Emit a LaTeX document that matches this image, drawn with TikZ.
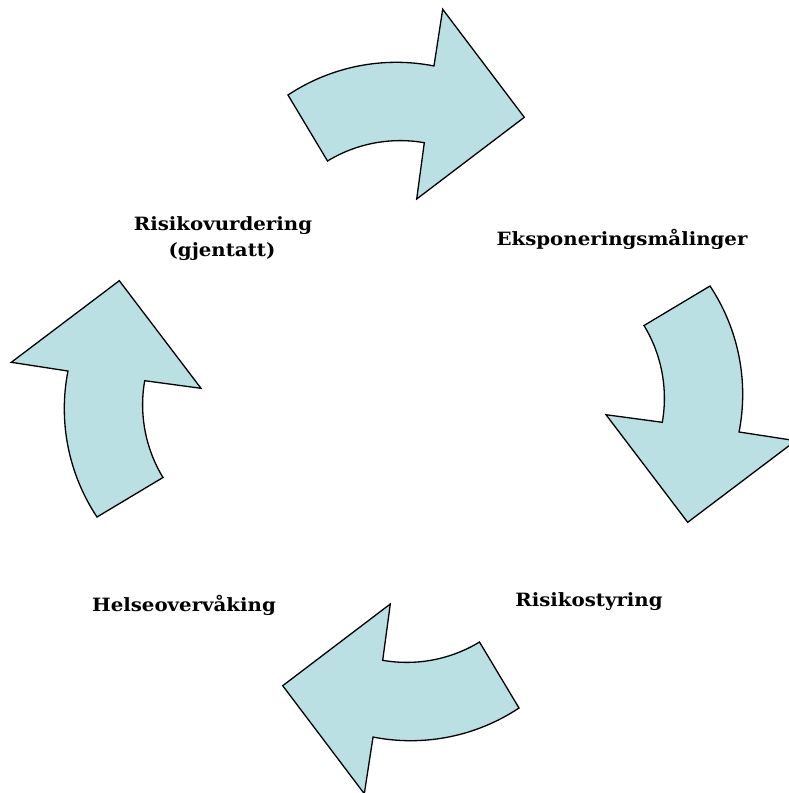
\documentclass[tikz,border=0pt]{standalone}
\usepackage{fontspec}
\setmainfont{DejaVu Serif}[FakeStretch=1.08]
\definecolor{arrowfill}{RGB}{186,224,228}
\begin{document}
\begin{tikzpicture}[x=1pt,y=-1pt,
  bentarrow/.style={draw=black,line width=1.3pt,fill=arrowfill,line join=miter},
  lbl/.style={font=\fontsize{18.3}{26}\selectfont\bfseries,inner sep=0pt,anchor=base,align=center}]
\useasboundingbox (0,0) rectangle (788,793);
\coordinate (c) at (403.5,401.5);
\def\arrowpath{(288,95) arc[start angle=-123.6,end angle=-78.9,radius=195.7]
  -- (442.7,9.3) -- (524.3,117.3) -- (416.7,199) -- (424.3,142.7)
  arc[start angle=-80.1,end angle=-121.3,radius=140] -- cycle}
\draw[bentarrow] \arrowpath;
\draw[bentarrow,rotate around={-90:(c)}] \arrowpath;
\draw[bentarrow,rotate around={-180:(c)}] \arrowpath;
\draw[bentarrow,rotate around={90:(c)}] \arrowpath;
\node[lbl] (risiko) at (223,230.7) {Risikovurdering};
\node[lbl] (gjentatt) at (222,256.5) {(gjentatt)};
\node[lbl] (ekspo) at (622,245.7) {Eksponeringsmålinger};
\node[lbl] (styring) at (589,606.7) {Risikostyring};
\node[lbl] (helse) at (184,611) {Helseovervåking};
\end{tikzpicture}
\end{document}
